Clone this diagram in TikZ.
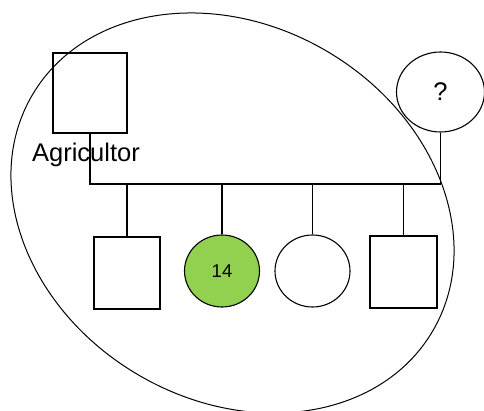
\documentclass[tikz,border=0pt]{standalone}
\usepackage{fontspec}
\setmainfont{Liberation Sans}
\usetikzlibrary{shapes.geometric}
\definecolor{affected}{HTML}{92D050}
\begin{document}
\begin{tikzpicture}[x=1pt,y=1pt,
  ln/.style={line width=1.1pt,black},
  male/.style={ln,draw,rectangle,inner sep=0pt},
  female/.style={ln,draw,ellipse,inner sep=0pt},
  lbl/.style={font=\fontsize{25.5}{30}\selectfont}]
\useasboundingbox (0,0) rectangle (484,410);
% family circle
\draw[line width=1pt,rotate around={-30.7:(232.5,197)}] (232.5,197) ellipse [x radius=232.4, y radius=187.3];
% parents
\node[male,minimum width=74pt,minimum height=80pt] (father) at (90,317) {};
\node[lbl,anchor=base] (occ) at (86,248) {Agricultor};
\node[female,minimum width=88pt,minimum height=80pt,lbl] (unk) at (440.5,318) {?};
% children
\node[male,minimum width=66pt,minimum height=72pt] (c1) at (127,137) {};
\node[female,fill=affected,minimum width=75pt,minimum height=72pt,font=\fontsize{18.5}{22}\selectfont] (c2) at (222,139) {14};
\node[female,minimum width=75pt,minimum height=72pt] (c3) at (312.5,139) {};
\node[male,minimum width=67pt,minimum height=72pt] (c4) at (403.5,138) {};
% sibship line
\coordinate (barL) at (91,226);
\coordinate (barR) at (440.5,226);
\draw[ln] (father.south) -- (father.south |- barL) -- (barR) -- (unk.south);
\foreach \c in {c1,c2,c3,c4}{
  \draw[ln] (\c.north) -- (\c.north |- barL);
}
\end{tikzpicture}
\end{document}
